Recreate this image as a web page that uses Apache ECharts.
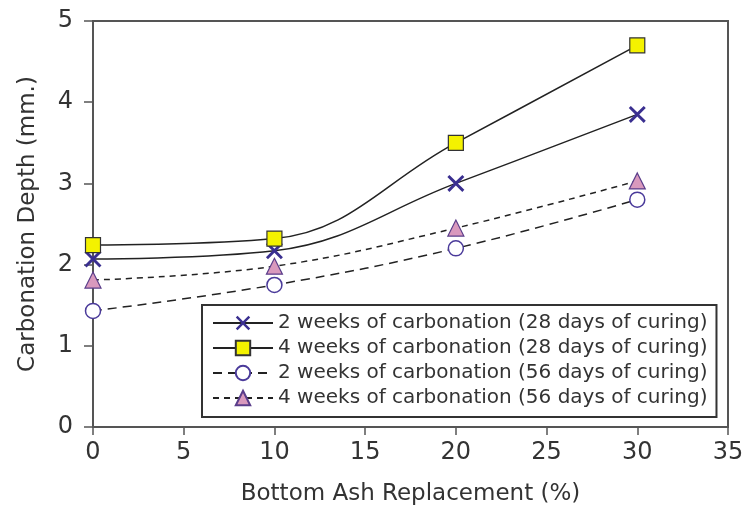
<!DOCTYPE html>
<html><head><meta charset="utf-8">
<script src="https://cdn.jsdelivr.net/npm/echarts@6/dist/echarts.min.js"></script>
<style>html,body{margin:0;padding:0;background:#fff}#c{width:747px;height:514px}</style>
</head><body><div id="c"></div>
<script>
const xValues = [0, 10, 20, 30];
const s2w28 = [2.07, 2.17, 3.0, 3.85];
const s4w28 = [2.24, 2.32, 3.5, 4.7];
const s2w56 = [1.43, 1.75, 2.2, 2.8];
const s4w56 = [1.81, 1.98, 2.45, 3.03];
const names = [
  '2 weeks of carbonation (28 days of curing)',
  '4 weeks of carbonation (28 days of curing)',
  '2 weeks of carbonation (56 days of curing)',
  '4 weeks of carbonation (56 days of curing)'
];
const xTicks = [0,5,10,15,20,25,30,35];
const FONT = 'DejaVu Sans';
const pair = arr => xValues.map((x,i)=>[x,arr[i]]);
const xPath = 'path://M0,1.2L1.2,0L5,3.8L8.8,0L10,1.2L6.2,5L10,8.8L8.8,10L5,6.2L1.2,10L0,8.8L3.8,5Z';
const chart = echarts.init(document.getElementById('c'));
chart.setOption({
  animation:false,
  backgroundColor:'#fff',
  grid:{left:93, top:21, right:19, bottom:87, show:true, borderColor:'#555', borderWidth:2},
  xAxis:{type:'value', min:0, max:35, interval:5,
    name:'Bottom Ash Replacement (%)', nameLocation:'middle', nameGap:56,
    nameTextStyle:{fontFamily:FONT, fontSize:23, color:'#333'},
    axisLine:{lineStyle:{color:'#555', width:2}},
    axisTick:{show:true, length:8, lineStyle:{color:'#555', width:1.5}},
    axisLabel:{fontFamily:FONT, fontSize:24, color:'#333', margin:14,
      formatter: v => xTicks.includes(v) ? String(v) : ''},
    splitLine:{show:false}},
  yAxis:{type:'value', min:0, max:5, interval:1,
    name:'Carbonation Depth (mm.)', nameLocation:'middle', nameGap:53,
    nameTextStyle:{fontFamily:FONT, fontSize:23, color:'#333'},
    axisLine:{show:true, lineStyle:{color:'#555', width:2}},
    axisTick:{show:true, length:9, lineStyle:{color:'#555', width:1.5}},
    axisLabel:{fontFamily:FONT, fontSize:24, color:'#333', margin:20},
    splitLine:{show:false}},
  legend:{orient:'vertical', left:202, top:305, itemWidth:60, itemHeight:18, itemGap:5,
    borderColor:'#333', borderWidth:2, padding:[8,9,9,10], backgroundColor:'#fff',
    textStyle:{fontFamily:FONT, fontSize:20, lineHeight:19, color:'#333'},
    data:names},
  series:[
    {name:names[0], type:'line', smooth:0.4, data:pair(s2w28), symbol:xPath, symbolSize:17,
      itemStyle:{color:'#3a2f90'}, lineStyle:{color:'#222', width:1.5, type:'solid'}, z:4},
    {name:names[1], type:'line', smooth:0.4, data:pair(s4w28), symbol:'rect', symbolSize:15,
      itemStyle:{color:'#f4f200', borderColor:'#333', borderWidth:1.2}, lineStyle:{color:'#222', width:1.5, type:'solid'}, z:5},
    {name:names[2], type:'line', smooth:0.4, data:pair(s2w56), symbol:'circle', symbolSize:15,
      itemStyle:{color:'#fff', borderColor:'#4a3a9a', borderWidth:1.5}, lineStyle:{color:'#222', width:1.5, type:[9,6]}, z:3},
    {name:names[3], type:'line', smooth:0.4, data:pair(s4w56), symbol:'triangle', symbolSize:16,
      itemStyle:{color:'#d999bd', borderColor:'#5a3d8a', borderWidth:1.2}, lineStyle:{color:'#222', width:1.5, type:[6,5]}, z:3}
  ]
});
</script></body></html>
